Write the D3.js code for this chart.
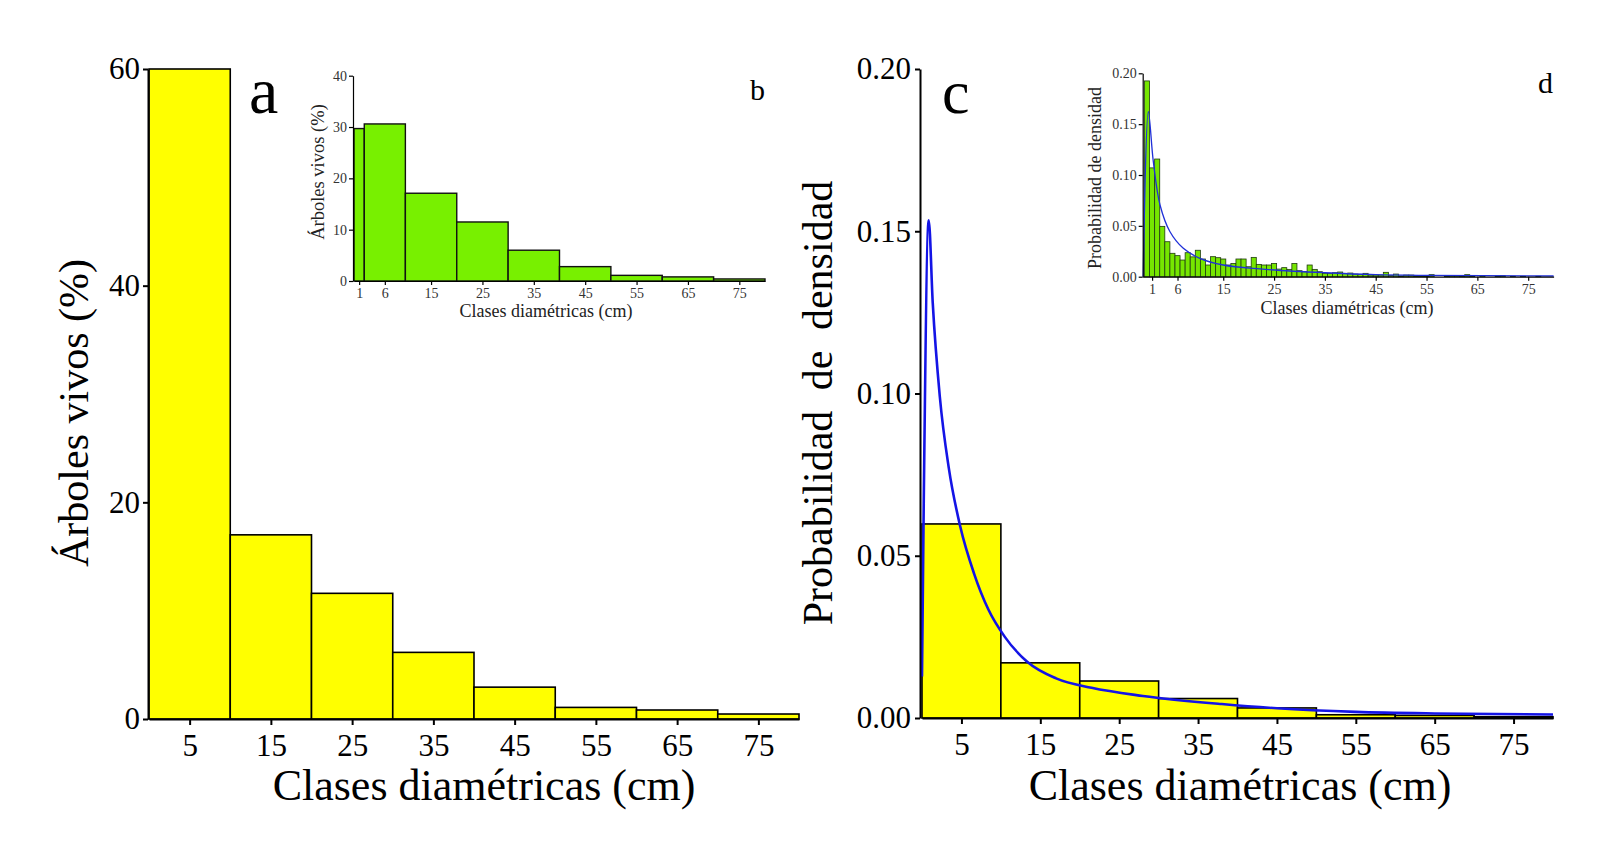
<!DOCTYPE html>
<html>
<head>
<meta charset="utf-8">
<script src="https://cdn.jsdelivr.net/npm/d3@7"></script>
<style>
	body { margin: 0; background: #fff; }
	text { font-family: "Liberation Serif", "DejaVu Serif", serif; }
</style>
</head>
<body>
<svg id="chart" width="1600" height="857"></svg>
<script>
// ---- data ----
// panel a / c : 10 cm classes
var binStart = [0, 10, 20, 30, 40, 50, 60, 70];
var arbolesPct = [60, 17.0, 11.6, 6.15, 2.94, 1.07, 0.83, 0.46];
var densidadC = [0.0598, 0.0170, 0.0114, 0.0060, 0.0031, 0.0010, 0.0008, 0.0004];
var mainTicks = [5, 15, 25, 35, 45, 55, 65, 75];

// blue fitted curve of panel c  [dap, densidad]
var curvaC = [[0, 0.0128], [0.22, 0.066], [0.85, 0.1534], [1.36, 0.128], [2.26, 0.099],
	[3.4, 0.077], [4.85, 0.059], [6.6, 0.0445], [8.4, 0.0335], [10.5, 0.025],
	[13.3, 0.0174], [17, 0.0122], [21.5, 0.0093], [28, 0.0068], [38, 0.0043],
	[45, 0.003], [55, 0.0019], [65, 0.0014], [80, 0.0011]];

// inset b : first classes split at 2 cm
var binEdgesB = [0, 2, 10, 20, 30, 40, 50, 60, 70, 80];
var arbolesPctB = [29.7, 30.6, 17.1, 11.5, 6.0, 2.8, 1.1, 0.8, 0.4];
var insetTicks = [1, 6, 15, 25, 35, 45, 55, 65, 75];

// inset d : 1 cm classes centred on 0..79
var densidadD = [0.1925, 0.107, 0.1157, 0.0495, 0.0344, 0.023, 0.0207, 0.0164, 0.0236, 0.0195,
	0.026, 0.0174, 0.0115, 0.0197, 0.0187, 0.0174, 0.0115, 0.013, 0.0174, 0.0174,
	0.0098, 0.019, 0.0121, 0.0115, 0.0115, 0.013, 0.0075, 0.0089, 0.0072, 0.013,
	0.0059, 0.0049, 0.0115, 0.0072, 0.0049, 0.0033, 0.0033, 0.0039, 0.0046, 0.0033,
	0.0036, 0.0026, 0.0023, 0.0033, 0.0016, 0.0016, 0.0016, 0.0043, 0.0012, 0.0026,
	0.0008, 0.0016, 0.0016, 0.0008, 0.0006, 0.0008, 0.002, 0, 0, 0.0006,
	0.001, 0.001, 0.0006, 0.002, 0.0006, 0, 0.0012, 0, 0, 0.0006,
	0.001, 0, 0.0004, 0, 0.0004, 0, 0, 0.0004, 0, 0];
var curvaD = [[-0.75, 0.0], [0.26, 0.1622], [1.24, 0.1131], [2.56, 0.0705], [4.52, 0.0442],
	[7.14, 0.0279], [10.4, 0.0181], [15.0, 0.0115], [22.2, 0.0076], [35, 0.0039],
	[45, 0.002], [55, 0.0013], [80, 0.0007]];

var svg = d3.select("#chart");
svg.append("rect").attr("width", 1600).attr("height", 857).attr("fill", "#fff");

// draws axis with given style
function drawAxis(axis, transform, fontSize, lineW, textColor) {
	var g = svg.append("g").attr("transform", transform).call(axis);
	g.selectAll(".domain").attr("stroke", "#000").attr("stroke-width", lineW);
	g.selectAll(".tick line").attr("stroke", "#000").attr("stroke-width", lineW);
	g.selectAll(".tick text")
		.attr("fill", textColor)
		.style("font-family", "Liberation Serif")
		.style("font-size", fontSize + "px");
	return g;
}

function addText(x, y, txt, size, anchor, rotate, color) {
	var t = svg.append("text")
		.attr("x", x).attr("y", y)
		.attr("text-anchor", anchor)
		.attr("fill", color || "#000")
		.style("font-size", size + "px")
		.text(txt);
	if (rotate) t.attr("transform", "rotate(-90," + x + "," + y + ")");
	return t;
}

// ---------- panel a ----------
var xA = d3.scaleLinear().domain([0, 80]).range([149, 799]);
var yA = d3.scaleLinear().domain([0, 60]).range([719, 69]);

svg.append("g").selectAll("rect")
	.data(binStart)
	.enter()
	.append("rect")
		.attr("x", function(d) { return xA(d); })
		.attr("y", function(d, i) { return yA(arbolesPct[i]); })
		.attr("width", function(d) { return xA(d + 10) - xA(d); })
		.attr("height", function(d, i) { return yA(0) - yA(arbolesPct[i]); })
		.attr("fill", "#ffff00")
		.attr("stroke", "#000")
		.attr("stroke-width", 1.6);

drawAxis(d3.axisLeft(yA).tickValues([0, 20, 40, 60]).tickSize(5).tickSizeOuter(0).tickPadding(3),
	"translate(148,0)", 31, 2, "#000");
drawAxis(d3.axisBottom(xA).tickValues(mainTicks).tickSize(6).tickSizeOuter(0).tickPadding(9),
	"translate(0,719)", 31, 2, "#000");

addText(484, 800, "Clases diamétricas (cm)", 44, "middle");
addText(88, 413, "Árboles vivos (%)", 42, "middle", true);
addText(249, 113, "a", 66, "start");

// ---------- inset b ----------
var xB = d3.scaleLinear().domain([0, 80]).range([354, 765]);
var yB = d3.scaleLinear().domain([0, 40]).range([281, 75.7]);

svg.append("g").selectAll("rect")
	.data(arbolesPctB)
	.enter()
	.append("rect")
		.attr("x", function(d, i) { return xB(binEdgesB[i]); })
		.attr("y", function(d) { return yB(d); })
		.attr("width", function(d, i) { return xB(binEdgesB[i + 1]) - xB(binEdgesB[i]); })
		.attr("height", function(d) { return yB(0) - yB(d); })
		.attr("fill", "#78f000")
		.attr("stroke", "#111")
		.attr("stroke-width", 1.4);

drawAxis(d3.axisLeft(yB).tickValues([0, 10, 20, 30, 40]).tickSize(4).tickSizeOuter(0).tickPadding(2),
	"translate(353,0)", 14, 1.2, "#333");
drawAxis(d3.axisBottom(xB).tickValues(insetTicks).tickSize(4).tickSizeOuter(0).tickPadding(3),
	"translate(0,281)", 14, 1.2, "#333");

addText(546, 317, "Clases diamétricas (cm)", 18, "middle", false, "#222");
addText(324, 172, "Árboles vivos (%)", 18.5, "middle", true, "#222");
addText(750, 100, "b", 30, "start");

// ---------- panel c ----------
var xC = d3.scaleLinear().domain([0, 80]).range([922, 1553]);
var yC = d3.scaleLinear().domain([0, 0.2]).range([718, 69]);

svg.append("g").selectAll("rect")
	.data(binStart)
	.enter()
	.append("rect")
		.attr("x", function(d) { return xC(d); })
		.attr("y", function(d, i) { return yC(densidadC[i]); })
		.attr("width", function(d) { return xC(d + 10) - xC(d); })
		.attr("height", function(d, i) { return yC(0) - yC(densidadC[i]); })
		.attr("fill", "#ffff00")
		.attr("stroke", "#000")
		.attr("stroke-width", 1.6);

var lineC = d3.line()
	.x(function(d) { return xC(d[0]); })
	.y(function(d) { return yC(d[1]); })
	.curve(d3.curveMonotoneX);

svg.append("path")
	.datum(curvaC)
	.attr("d", lineC)
	.attr("fill", "none")
	.attr("stroke", "#1414e6")
	.attr("stroke-width", 2.6);

drawAxis(d3.axisLeft(yC).tickValues([0, 0.05, 0.1, 0.15, 0.2]).tickFormat(d3.format(".2f"))
	.tickSize(5).tickSizeOuter(0).tickPadding(4), "translate(920,0)", 31, 2, "#000");
drawAxis(d3.axisBottom(xC).tickValues(mainTicks).tickSize(6).tickSizeOuter(0).tickPadding(9),
	"translate(0,718)", 31, 2, "#000");

addText(1240, 800, "Clases diamétricas (cm)", 44, "middle");
addText(832, 403, "Probabilidad de densidad", 42, "middle", true).style("word-spacing", "10px");
addText(942, 113, "c", 62, "start");

// ---------- inset d ----------
var xD = d3.scaleLinear().domain([-0.85, 80]).range([1142.7, 1553.6]);
var yD = d3.scaleLinear().domain([0, 0.2]).range([276.7, 73.3]);

svg.append("g").selectAll("rect")
	.data(densidadD)
	.enter()
	.append("rect")
		.attr("x", function(d, i) { return xD(i - 0.5); })
		.attr("y", function(d) { return yD(d); })
		.attr("width", function(d, i) { return xD(i + 0.5) - xD(i - 0.5); })
		.attr("height", function(d) { return yD(0) - yD(d); })
		.attr("fill", "#76e600")
		.attr("stroke", "#1f3a10")
		.attr("stroke-width", 0.8);

var lineD = d3.line()
	.x(function(d) { return xD(d[0]); })
	.y(function(d) { return yD(d[1]); })
	.curve(d3.curveCatmullRom.alpha(0.5));

svg.append("path")
	.datum(curvaD)
	.attr("d", lineD)
	.attr("fill", "none")
	.attr("stroke", "#2030d8")
	.attr("stroke-width", 1.3);

drawAxis(d3.axisLeft(yD).tickValues([0, 0.05, 0.1, 0.15, 0.2]).tickFormat(d3.format(".2f"))
	.tickSize(4).tickSizeOuter(0).tickPadding(2), "translate(1142.7,0)", 14, 1.2, "#333");
drawAxis(d3.axisBottom(xD).tickValues(insetTicks).tickSize(4).tickSizeOuter(0).tickPadding(3),
	"translate(0,276.7)", 14, 1.2, "#333");

addText(1347, 314, "Clases diamétricas (cm)", 18, "middle", false, "#222");
addText(1101, 178, "Probabilidad de densidad", 18, "middle", true, "#222");
addText(1538, 93, "d", 30, "start");
</script>
</body>
</html>
